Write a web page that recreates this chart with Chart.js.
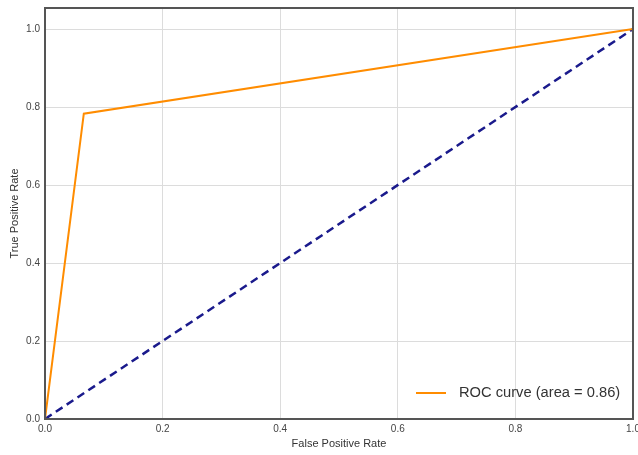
<!DOCTYPE html>
<html lang="en">
<head>
<meta charset="UTF-8">
<title>ROC curve</title>
<script src="https://cdn.jsdelivr.net/npm/chart.js"></script>
<style>
  html, body { margin: 0; padding: 0; background: #fff; }
  #wrap { width: 638px; height: 455px; }
</style>
</head>
<body>
<div id="wrap"><canvas id="roc" width="638" height="455"></canvas></div>
<script>
// ROC points
const fpr = [0, 0.066, 1];
const tpr = [0, 0.783, 1];
const chanceX = [0, 1];
const chanceY = [0, 1];
const rocLabel = 'ROC curve (area = 0.86)';
const xTitle = 'False Positive Rate';
const yTitle = 'True Positive Rate';

const tickFont = { family: 'Liberation Sans, Arial, sans-serif', size: 10 };
const titleFont = { family: 'Liberation Sans, Arial, sans-serif', size: 11 };

// frame on all four sides + legend inside the plot, lower right
const framePlugin = {
  id: 'frame',
  afterDatasetsDraw(chart) {
    const { ctx, chartArea: a } = chart;
    ctx.save();
    ctx.strokeStyle = '#555';
    ctx.lineWidth = 2;
    ctx.strokeRect(a.left, a.top, a.right - a.left, a.bottom - a.top);

    const ds = chart.data.datasets[0];
    const y = a.bottom - 26;
    ctx.strokeStyle = ds.borderColor;
    ctx.lineWidth = 2;
    ctx.beginPath();
    ctx.moveTo(416, y);
    ctx.lineTo(446, y);
    ctx.stroke();
    ctx.fillStyle = '#333';
    ctx.font = '14.7px Liberation Sans, Arial, sans-serif';
    ctx.textBaseline = 'middle';
    ctx.fillText(ds.label, 459, y);
    ctx.restore();
  }
};

new Chart(document.getElementById('roc'), {
  type: 'line',
  data: {
    datasets: [
      {
        label: rocLabel,
        data: fpr.map((x, i) => ({ x, y: tpr[i] })),
        borderColor: '#ff8c00',
        borderWidth: 2,
        pointRadius: 0,
        fill: false,
        tension: 0
      },
      {
        label: 'chance',
        data: chanceX.map((x, i) => ({ x, y: chanceY[i] })),
        borderColor: '#1a1a8c',
        borderWidth: 2.5,
        borderDash: [8, 5],
        pointRadius: 0,
        fill: false
      }
    ]
  },
  options: {
    responsive: false,
    animation: false,
    layout: { padding: { top: 8, right: 5, left: 0, bottom: 0 } },
    plugins: {
      legend: { display: false },
      tooltip: { enabled: false }
    },
    scales: {
      x: {
        type: 'linear',
        min: 0,
        max: 1,
        afterFit(s) { s.height = 36; s.paddingLeft = 0; s.paddingRight = 0; },
        grid: { color: '#dcdcdc', drawTicks: false },
        border: { display: false },
        ticks: {
          stepSize: 0.2,
          padding: 4,
          color: '#444',
          font: tickFont,
          maxRotation: 0,
          callback: v => v.toFixed(1)
        },
        title: { display: true, text: xTitle, color: '#333', font: titleFont, padding: { top: 0, bottom: 4 } }
      },
      y: {
        type: 'linear',
        min: 0,
        max: 1.054,
        afterFit(s) { s.width = 45; s.paddingTop = 0; s.paddingBottom = 0; },
        grid: { color: '#dcdcdc', drawTicks: false },
        border: { display: false },
        ticks: {
          stepSize: 0.2,
          includeBounds: false,
          padding: 5,
          color: '#444',
          font: tickFont,
          callback: v => v.toFixed(1)
        },
        title: { display: true, text: yTitle, color: '#333', font: titleFont, padding: { top: 8, bottom: 4 } }
      }
    }
  },
  plugins: [framePlugin]
});
</script>
</body>
</html>
